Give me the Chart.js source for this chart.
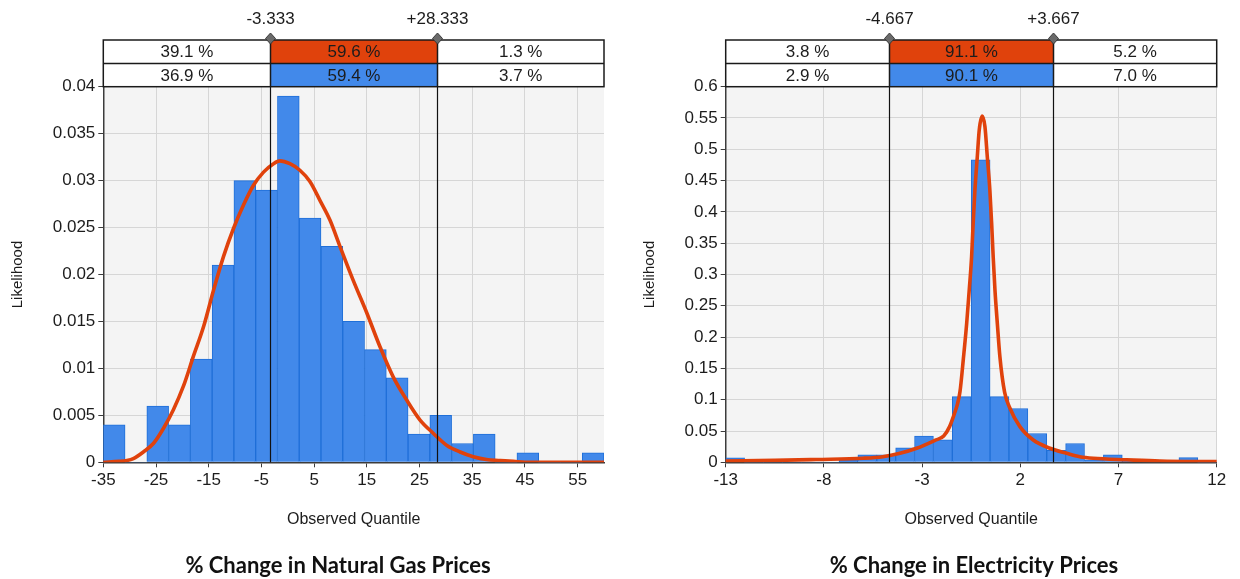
<!DOCTYPE html>
<html>
<head>
<meta charset="utf-8">
<script src="https://cdn.jsdelivr.net/npm/chart.js@4.4.1/dist/chart.umd.min.js"></script>
<style>
  html, body { margin: 0; padding: 0; background: #ffffff; }
  #wrap { position: relative; width: 1240px; height: 579px; overflow: hidden; }
  .panel { position: absolute; top: 0; width: 620px; height: 579px; }
</style>
</head>
<body>
<div id="wrap">
  <div class="panel" style="left:0"><canvas id="gas" width="620" height="579"></canvas></div>
  <div class="panel" style="left:620px"><canvas id="elec" width="620" height="579"></canvas></div>
</div>
<script>
// ---- % change in natural gas prices ----
const gasRange = [-35, 60];
const gasDensity = [0.004, 0, 0.006, 0.004, 0.011, 0.021, 0.030, 0.029, 0.039, 0.026, 0.023, 0.015,
                    0.012, 0.009, 0.003, 0.005, 0.002, 0.003, 0, 0.001, 0, 0, 0.001];
const gasFitX = [-35, -32, -30.5, -29.3, -27.4, -25.5, -23.6, -21.7, -19.8, -17.9, -16.0, -14.1, -12.2, -10.3,
                 -8.4, -6.5, -4.6, -2.7, -1.5, 0.4, 2.3, 4.2, 6.1, 8.0, 9.9, 12.4, 15.0, 17.5, 20.0, 22.6,
                 25.1, 27.6, 30.2, 32.7, 35.2, 37.7, 40.3, 42.8, 46, 60];
const gasFitY = [0, 0.0001, 0.0002, 0.0004, 0.0011, 0.002, 0.0036, 0.0056, 0.0081, 0.0113, 0.0144, 0.0183,
                 0.0219, 0.0249, 0.0274, 0.0295, 0.0309, 0.0318, 0.0321, 0.0318, 0.0311, 0.0299, 0.0279,
                 0.0258, 0.0230, 0.0194, 0.0159, 0.0123, 0.0091, 0.0066, 0.0045, 0.0031, 0.0018, 0.0011,
                 0.0006, 0.0003, 0.0002, 0.0001, 0, 0];
const gasXTicks = [-35, -25, -15, -5, 5, 15, 25, 35, 45, 55];
const gasYTicks = [0, 0.005, 0.01, 0.015, 0.02, 0.025, 0.03, 0.035, 0.04];
const gasBounds = [-3.333, 28.333];
const gasFitPct = [39.1, 59.6, 1.3];
const gasObsPct = [36.9, 59.4, 3.7];
const gasTitle = '% Change in Natural Gas Prices';

// ---- % change in electricity prices ----
const elecRange = [-13, 12];
const elecDensity = [0.007, 0, 0, 0, 0, 0, 0.003, 0.012, 0.012, 0.023, 0.042, 0.036, 0.105, 0.483,
                     0.105, 0.086, 0.046, 0.019, 0.030, 0.004, 0.012, 0.003, 0.002, 0.001, 0.0075, 0];
const elecFitX = [-13, -10.5, -8.4, -6.0, -5.0, -4.13, -3.28, -2.35, -1.9, -1.6, -1.33, -1.2, -1.07, -0.9,
                  -0.73, -0.6, -0.48, -0.4, -0.31, -0.19, -0.09, 0.06, 0.2, 0.32, 0.45, 0.54, 0.62, 0.71,
                  0.83, 0.96, 1.2, 1.45, 1.98, 2.66, 3.51, 4.36, 5.03, 5.72, 7.42, 9.11, 12];
const elecFitY = [0.002, 0.003, 0.0045, 0.0065, 0.009, 0.0144, 0.0224, 0.035, 0.042, 0.057, 0.08, 0.093,
                  0.113, 0.165, 0.222, 0.275, 0.328, 0.382, 0.435, 0.488, 0.531, 0.553, 0.536, 0.488,
                  0.435, 0.382, 0.328, 0.275, 0.222, 0.169, 0.112, 0.088, 0.057, 0.0356, 0.0224, 0.0144,
                  0.009, 0.0064, 0.004, 0.002, 0.001];
const elecXTicks = [-13, -8, -3, 2, 7, 12];
const elecYTicks = [0, 0.05, 0.1, 0.15, 0.2, 0.25, 0.3, 0.35, 0.4, 0.45, 0.5, 0.55, 0.6];
const elecBounds = [-4.667, 3.667];
const elecFitPct = [3.8, 91.1, 5.2];
const elecObsPct = [2.9, 90.1, 7.0];
const elecTitle = '% Change in Electricity Prices';

// ---- shared styling ----
const FONT = "'Liberation Sans', Arial, sans-serif";
const TEXT = '#1c1c1c';
const BAR_FILL = '#4289ea';
const BAR_EDGE = '#1f6fd8';
const FIT_COLOR = '#e0420c';
const PLOT_BG = '#f4f4f4';
const GRID = '#d6d6d6';
const AXIS = '#3c3c3c';

Chart.defaults.font.family = FONT;
Chart.defaults.color = TEXT;

function fmtBound(v) { return (v > 0 ? '+' : '') + v.toFixed(3); }
function fmtPct(v) { return v.toFixed(1) + ' %'; }

// Header table, threshold markers, threshold lines and the panel caption.
function overlayPlugin(p) {
  return {
    id: 'overlay',
    beforeDraw(chart) {
      const a = chart.chartArea, ctx = chart.ctx;
      ctx.save();
      ctx.fillStyle = PLOT_BG;
      ctx.fillRect(a.left, a.top, a.right - a.left, a.bottom - a.top);
      ctx.restore();
    },
    afterDatasetsDraw(chart) {
      const a = chart.chartArea, ctx = chart.ctx, xs = chart.scales.x;
      ctx.save();
      ctx.strokeStyle = '#111';
      ctx.lineWidth = 1.2;
      p.bounds.forEach(b => {
        const x = Math.round(xs.getPixelForValue(b)) + 0.5;
        ctx.beginPath();
        ctx.moveTo(x, a.top);
        ctx.lineTo(x, a.bottom);
        ctx.stroke();
      });
      ctx.restore();
    },
    afterDraw(chart) {
      const a = chart.chartArea, ctx = chart.ctx, xs = chart.scales.x;
      const top = 40, mid = 63.5, bot = a.top;
      const bx = p.bounds.map(b => Math.round(xs.getPixelForValue(b)) + 0.5);
      const edges = [a.left, bx[0], bx[1], a.right];
      ctx.save();
      // coloured middle cells
      ctx.fillStyle = FIT_COLOR;
      ctx.fillRect(bx[0], top, bx[1] - bx[0], mid - top);
      ctx.fillStyle = BAR_FILL;
      ctx.fillRect(bx[0], mid, bx[1] - bx[0], bot - mid);
      // borders
      ctx.strokeStyle = '#1a1a1a';
      ctx.lineWidth = 1.5;
      ctx.strokeRect(a.left, top, a.right - a.left, bot - top);
      ctx.beginPath();
      ctx.moveTo(a.left, mid); ctx.lineTo(a.right, mid);
      bx.forEach(x => { ctx.moveTo(x, top); ctx.lineTo(x, bot); });
      ctx.stroke();
      // cell text
      ctx.fillStyle = TEXT;
      ctx.font = '17px ' + FONT;
      ctx.textAlign = 'center';
      ctx.textBaseline = 'middle';
      for (let i = 0; i < 3; i++) {
        const cx = (edges[i] + edges[i + 1]) / 2;
        ctx.fillText(fmtPct(p.fit[i]), cx, (top + mid) / 2 + 1);
        ctx.fillText(fmtPct(p.obs[i]), cx, (mid + bot) / 2 + 1);
      }
      // threshold labels and diamond handles
      ctx.font = '17px ' + FONT;
      bx.forEach((x, i) => {
        ctx.fillStyle = TEXT;
        ctx.fillText(fmtBound(p.bounds[i]), x, 19);
        ctx.beginPath();
        ctx.moveTo(x, 33); ctx.lineTo(x + 5, 38.5); ctx.lineTo(x, 44); ctx.lineTo(x - 5, 38.5);
        ctx.closePath();
        ctx.fillStyle = '#6a6a6a';
        ctx.fill();
        ctx.strokeStyle = '#3a3a3a';
        ctx.lineWidth = 1;
        ctx.stroke();
      });
      // caption
      ctx.font = 'bold 22px Lato, ' + FONT;
      ctx.fillStyle = '#111';
      ctx.fillText(p.title, p.titleX, 566);
      ctx.restore();
    }
  };
}

function makeChart(id, p) {
  const n = p.density.length;
  const w = (p.range[1] - p.range[0]) / n;
  const bars = p.density.map((v, i) => ({ x: p.range[0] + (i + 0.5) * w, y: v }));
  const fit = p.fitX.map((x, i) => ({ x: x, y: p.fitY[i] }));
  return new Chart(document.getElementById(id), {
    type: 'bar',
    data: {
      datasets: [
        {
          type: 'line', data: fit, order: 0,
          borderColor: FIT_COLOR, borderWidth: 3.6, pointRadius: 0,
          cubicInterpolationMode: 'monotone', borderJoinStyle: 'round', borderCapStyle: 'round', fill: false
        },
        {
          type: 'bar', data: bars, order: 1,
          backgroundColor: BAR_FILL, borderColor: BAR_EDGE,
          borderWidth: ctx => (ctx.raw && ctx.raw.y > 0 ? 1 : 0),
          barPercentage: 1, categoryPercentage: 1
        }
      ]
    },
    options: {
      responsive: false,
      animation: false,
      devicePixelRatio: 1,
      layout: { padding: { left: p.padLeft, right: p.padRight, top: 86.7, bottom: 40 } },
      plugins: { legend: { display: false }, tooltip: { enabled: false }, title: { display: false } },
      scales: {
        x: {
          type: 'linear', min: p.range[0], max: p.range[1], offset: false,
          afterBuildTicks: s => { s.ticks = p.xTicks.map(v => ({ value: v })); },
          afterFit: s => { s.height = 579 - 40 - 462.3; },
          grid: { offset: false, color: GRID, lineWidth: 1, drawTicks: true, tickLength: 5, tickColor: AXIS },
          border: { color: AXIS, width: 1.5 },
          ticks: { font: { size: 17 }, color: TEXT, padding: 3, maxRotation: 0, autoSkip: false,
                   callback: v => String(v) },
          title: { display: true, text: 'Observed Quantile', font: { size: 16 }, color: TEXT,
                   padding: { top: 4, bottom: 10 } }
        },
        y: {
          type: 'linear', min: 0, max: p.yTicks[p.yTicks.length - 1],
          afterBuildTicks: s => { s.ticks = p.yTicks.map(v => ({ value: v })); },
          afterFit: s => { s.width = p.yWidth; },
          grid: { color: GRID, lineWidth: 1, drawTicks: true, tickLength: 5, tickColor: AXIS },
          border: { color: AXIS, width: 1.5 },
          ticks: { font: { size: 17 }, color: TEXT, padding: 3, autoSkip: false,
                   callback: v => String(+v.toFixed(3)) },
          title: { display: true, text: 'Likelihood', font: { size: 15 }, color: TEXT,
                   padding: { top: 4, bottom: 4 } }
        }
      }
    },
    plugins: [overlayPlugin(p)]
  });
}

makeChart('gas', {
  range: gasRange, density: gasDensity, fitX: gasFitX, fitY: gasFitY,
  xTicks: gasXTicks, yTicks: gasYTicks, bounds: gasBounds, fit: gasFitPct, obs: gasObsPct,
  title: gasTitle, titleX: 338, padLeft: 5, yWidth: 98.3, padRight: 16
});
makeChart('elec', {
  range: elecRange, density: elecDensity, fitX: elecFitX, fitY: elecFitY,
  xTicks: elecXTicks, yTicks: elecYTicks, bounds: elecBounds, fit: elecFitPct, obs: elecObsPct,
  title: elecTitle, titleX: 354, padLeft: 17, yWidth: 88.7, padRight: 23.3
});
</script>
</body>
</html>
